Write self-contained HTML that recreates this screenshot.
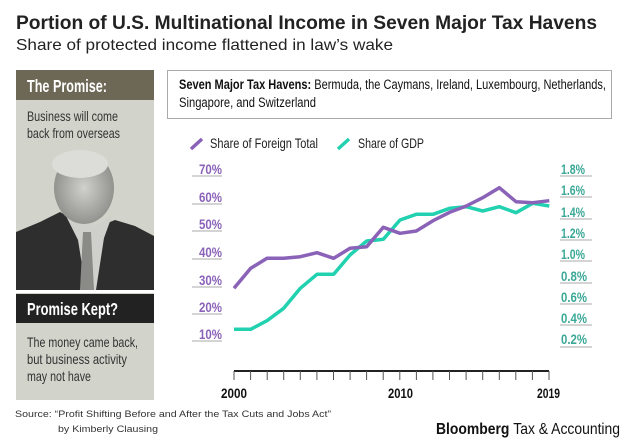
<!DOCTYPE html>
<html><head><meta charset="utf-8"><style>
body{margin:0;background:#fff;width:633px;height:447px;overflow:hidden}
svg{display:block}
.n{font-family:"Liberation Sans",sans-serif}
.s{font-family:"Liberation Sans",sans-serif}
</style></head><body>
<svg width="633" height="447" viewBox="0 0 633 447">
<text x="16" y="29" class="s" font-size="19.5" font-weight="bold" fill="#222" textLength="581" lengthAdjust="spacingAndGlyphs">Portion of U.S. Multinational Income in Seven Major Tax Havens</text>
<text x="16" y="50" class="s" font-size="16" fill="#222" textLength="377" lengthAdjust="spacingAndGlyphs">Share of protected income flattened in law’s wake</text>

<rect x="16" y="70" width="138" height="330" fill="#d2d3ca"/>
<rect x="16" y="70" width="138" height="30" fill="#6d6756"/>
<text x="27" y="92" class="n" font-size="17.5" font-weight="bold" fill="#fff" textLength="80" lengthAdjust="spacingAndGlyphs">The Promise:</text>
<text x="27" y="121" class="n" font-size="14" fill="#333" textLength="91" lengthAdjust="spacingAndGlyphs">Business will come</text>
<text x="27" y="138" class="n" font-size="14" fill="#333" textLength="93" lengthAdjust="spacingAndGlyphs">back from overseas</text>
<defs><radialGradient id="hd" cx="50%" cy="50%" r="55%"><stop offset="0" stop-color="#d0d0cc"/><stop offset="1" stop-color="#8c8c88"/></radialGradient></defs>
<path d="M16 232 L40 222 L60 212 L78 222 L95 228 L115 220 L135 226 L154 236 L154 290 L16 290 Z" fill="#2e2e2e"/>
<path d="M64 212 L78 240 L86 290 L96 290 L104 238 L112 216 L96 226 Z" fill="#cfcfcc"/>
<path d="M83 232 L91 232 L94 290 L80 290 Z" fill="#8a8a86"/>
<ellipse cx="84" cy="188" rx="30" ry="36" fill="url(#hd)"/>
<ellipse cx="80" cy="164" rx="28" ry="14" fill="#dcdcd8"/>
<rect x="16" y="290" width="138" height="3" fill="#fff"/>
<rect x="16" y="294" width="138" height="29" fill="#222"/>
<text x="27" y="315" class="n" font-size="17.5" font-weight="bold" fill="#fff" textLength="91" lengthAdjust="spacingAndGlyphs">Promise Kept?</text>
<text x="27" y="347" class="n" font-size="14" fill="#333" textLength="111" lengthAdjust="spacingAndGlyphs">The money came back,</text>
<text x="27" y="364" class="n" font-size="14" fill="#333" textLength="100" lengthAdjust="spacingAndGlyphs">but business activity</text>
<text x="27" y="381" class="n" font-size="14" fill="#333" textLength="64" lengthAdjust="spacingAndGlyphs">may not have</text>

<rect x="167.5" y="70.5" width="444" height="48" fill="#fff" stroke="#aaa"/>
<text x="179" y="89" class="n" font-size="13.5" fill="#111" textLength="427" lengthAdjust="spacingAndGlyphs"><tspan font-weight="bold">Seven Major Tax Havens:</tspan> Bermuda, the Caymans, Ireland, Luxembourg, Netherlands,</text>
<text x="179" y="107" class="n" font-size="13.5" fill="#111" textLength="137" lengthAdjust="spacingAndGlyphs">Singapore, and Switzerland</text>

<line x1="191" y1="149" x2="202" y2="139" stroke="#8a62b8" stroke-width="3.5"/>
<text x="210" y="148" class="n" font-size="14" fill="#222" textLength="108" lengthAdjust="spacingAndGlyphs">Share of Foreign Total</text>
<line x1="338" y1="149" x2="349" y2="139" stroke="#22d1b0" stroke-width="3.5"/>
<text x="358" y="148" class="n" font-size="14" fill="#222" textLength="66" lengthAdjust="spacingAndGlyphs">Share of GDP</text>

<g stroke="#bbb" stroke-width="1.3">
<line x1="192" y1="176" x2="222" y2="176"/><line x1="192" y1="204" x2="222" y2="204"/>
<line x1="192" y1="231" x2="222" y2="231"/><line x1="192" y1="259" x2="222" y2="259"/>
<line x1="192" y1="287" x2="222" y2="287"/><line x1="192" y1="314" x2="222" y2="314"/>
<line x1="192" y1="341" x2="222" y2="341"/>
</g>
<g class="n" font-size="14" font-weight="bold" fill="#8a62b8">
<text x="199" y="174" textLength="23" lengthAdjust="spacingAndGlyphs">70%</text><text x="199" y="202" textLength="23" lengthAdjust="spacingAndGlyphs">60%</text><text x="199" y="229" textLength="23" lengthAdjust="spacingAndGlyphs">50%</text>
<text x="199" y="257" textLength="23" lengthAdjust="spacingAndGlyphs">40%</text><text x="199" y="285" textLength="23" lengthAdjust="spacingAndGlyphs">30%</text><text x="199" y="312" textLength="23" lengthAdjust="spacingAndGlyphs">20%</text>
<text x="199" y="339" textLength="23" lengthAdjust="spacingAndGlyphs">10%</text>
</g>
<g stroke="#bbb" stroke-width="1.3">
<line x1="560" y1="176" x2="592" y2="176"/><line x1="560" y1="197" x2="592" y2="197"/>
<line x1="560" y1="219" x2="592" y2="219"/><line x1="560" y1="240" x2="592" y2="240"/>
<line x1="560" y1="261" x2="592" y2="261"/><line x1="560" y1="283" x2="592" y2="283"/>
<line x1="560" y1="304" x2="592" y2="304"/><line x1="560" y1="325" x2="592" y2="325"/>
<line x1="560" y1="347" x2="592" y2="347"/>
</g>
<g class="n" font-size="14" font-weight="bold" fill="#3aa896">
<text x="561" y="174" textLength="24" lengthAdjust="spacingAndGlyphs">1.8%</text><text x="561" y="195" textLength="24" lengthAdjust="spacingAndGlyphs">1.6%</text><text x="561" y="217" textLength="24" lengthAdjust="spacingAndGlyphs">1.4%</text>
<text x="561" y="238" textLength="24" lengthAdjust="spacingAndGlyphs">1.2%</text><text x="561" y="259" textLength="24" lengthAdjust="spacingAndGlyphs">1.0%</text><text x="561" y="281" textLength="26" lengthAdjust="spacingAndGlyphs">0.8%</text>
<text x="561" y="302" textLength="26" lengthAdjust="spacingAndGlyphs">0.6%</text><text x="561" y="323" textLength="26" lengthAdjust="spacingAndGlyphs">0.4%</text><text x="561" y="344" textLength="26" lengthAdjust="spacingAndGlyphs">0.2%</text>
</g>

<line x1="234" y1="371" x2="549" y2="371" stroke="#222" stroke-width="2"/>
<g stroke="#555" stroke-width="1">
<line x1="234" y1="371" x2="234" y2="380"/><line x1="250.6" y1="371" x2="250.6" y2="380"/><line x1="267.2" y1="371" x2="267.2" y2="380"/><line x1="283.7" y1="371" x2="283.7" y2="380"/><line x1="300.3" y1="371" x2="300.3" y2="380"/><line x1="316.9" y1="371" x2="316.9" y2="380"/><line x1="333.5" y1="371" x2="333.5" y2="380"/><line x1="350.1" y1="371" x2="350.1" y2="380"/><line x1="366.6" y1="371" x2="366.6" y2="380"/><line x1="383.2" y1="371" x2="383.2" y2="380"/><line x1="399.8" y1="371" x2="399.8" y2="380"/><line x1="416.4" y1="371" x2="416.4" y2="380"/><line x1="432.9" y1="371" x2="432.9" y2="380"/><line x1="449.5" y1="371" x2="449.5" y2="380"/><line x1="466.1" y1="371" x2="466.1" y2="380"/><line x1="482.7" y1="371" x2="482.7" y2="380"/><line x1="499.3" y1="371" x2="499.3" y2="380"/><line x1="515.8" y1="371" x2="515.8" y2="380"/><line x1="532.4" y1="371" x2="532.4" y2="380"/><line x1="549" y1="371" x2="549" y2="380"/>
</g>
<g class="n" font-size="14" font-weight="bold" fill="#111">
<text x="221" y="398" textLength="26" lengthAdjust="spacingAndGlyphs">2000</text><text x="388" y="398" textLength="25" lengthAdjust="spacingAndGlyphs">2010</text><text x="537" y="398" textLength="23" lengthAdjust="spacingAndGlyphs">2019</text>
</g>

<polyline fill="none" stroke="#22d1b0" stroke-width="3.5" stroke-linejoin="round" points="234,329.3 250.7,329.3 267,320.7 283.7,308.3 300.3,288.3 317,274.3 333.7,274.3 350,255 366.7,241 383.3,239.3 400,220 416.3,214.3 433,214.3 449.7,208.3 466.3,206.7 482.7,211 499.3,206.7 516,212.7 532.7,203.3 549.3,206"/>
<polyline fill="none" stroke="#8a62b8" stroke-width="3.5" stroke-linejoin="round" points="234,288.3 250.7,268.3 267,258.3 283.7,258.3 300.3,256.7 317,252.7 333.7,258.3 350,248.3 366.7,246.7 383.3,227.3 400,233.3 416.3,231 433,220.7 449.7,212.3 466.3,206 482.7,197.7 499.3,187.7 516,201.7 532.7,202.7 549.3,200.7"/>

<text x="15" y="417" class="s" font-size="9.5" fill="#333" textLength="316" lengthAdjust="spacingAndGlyphs">Source: “Profit Shifting Before and After the Tax Cuts and Jobs Act”</text>
<text x="58" y="432" class="s" font-size="9.5" fill="#333" textLength="100" lengthAdjust="spacingAndGlyphs">by Kimberly Clausing</text>
<text x="436" y="434" class="s" font-size="16" font-weight="bold" fill="#111" textLength="184" lengthAdjust="spacingAndGlyphs">Bloomberg <tspan font-weight="normal">Tax &amp; Accounting</tspan></text>
</svg>
</body></html>
